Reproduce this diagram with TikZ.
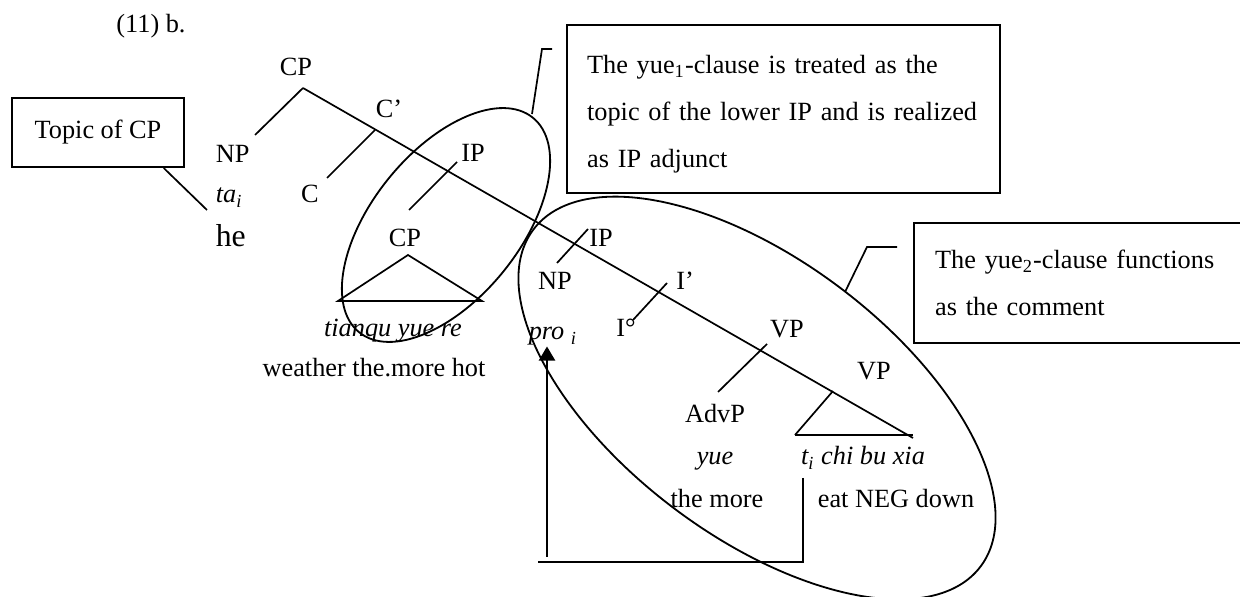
\documentclass[tikz,border=0pt]{standalone}
\usepackage{fontspec}
\setmainfont{Liberation Serif}
\usetikzlibrary{shapes.geometric, arrows.meta, calc}

\begin{document}
\begin{tikzpicture}[x=0.0155cm, y=0.0155cm, line width=0.75pt, font=\fontsize{11.6}{14}\selectfont]
\tikzset{lab/.style={inner sep=0pt, anchor=base}, box/.style={draw, line width=1pt, inner sep=0pt, font=\fontsize{11.6}{20.9}\selectfont}, oval/.style={draw, ellipse, inner sep=0pt, line width=0.8pt}, move/.style={line width=1pt}}
\useasboundingbox (0,0) rectangle (1240,-597);
\clip (0,0) rectangle (1240,-597);
% labels of the tree
\node[lab] (ex) at (151,-33) {(11) b.};
\node[lab] (cp) at (296,-76) {CP};
\node[lab, anchor=base west] (np) at (215,-163) {NP};
\node[lab, anchor=base west] (ta) at (215,-203) {\textit{ta\textsubscript{i}}};
\node[lab, anchor=base west, font=\fontsize{14}{16}\selectfont] (he) at (215,-247) {he};
\node[lab] (cbar) at (389,-118) {C’};
\node[lab] (c) at (310,-203) {C};
\node[lab] (ip) at (473,-162) {IP};
\node[lab] (cp2) at (405,-247) {CP};
\node[lab] (tq) at (393,-337) {\textit{tianqu yue re}};
\node[lab] (gl1) at (374,-377) {weather the.more hot};
\node[lab] (ip2) at (601,-247) {IP};
\node[lab] (np2) at (555,-290) {NP};
\node[lab] (ibar) at (685,-290) {I’};
\node[lab] (i0) at (626,-337) {I°};
\node[lab] (pro) at (553,-340) {\textit{pro \textsubscript{i}}};
\node[lab] (vp) at (787,-338) {VP};
\node[lab] (vp2) at (874,-380) {VP};
\node[lab] (advp) at (715,-423) {AdvP};
\node[lab] (yue) at (715,-465) {\textit{yue}};
\node[lab] (chi) at (863,-465) {\textit{t\textsubscript{i} chi bu xia}};
\node[lab] (gl2) at (717,-507) {the more};
\node[lab] (gl3) at (896,-507) {eat NEG down};
% boxes and ovals
\node[box, minimum width=2.666cm, minimum height=1.07cm] (topic) at (98,-132.5) {Topic of CP};
\node[box, text width=6.09cm, inner xsep=0.31cm, minimum height=2.604cm, align=left] (note1) at (783.5,-109) {\rule{0pt}{0.44cm}The yue\textsubscript{1}-clause is treated as the\\topic of the lower IP and is realized\\as IP adjunct};
\node[box, text width=4.62cm, inner xsep=0.326cm, minimum height=1.86cm, align=left, anchor=west] (note2) at (913,-283) {The yue\textsubscript{2}-clause functions\\as the comment};
\node[oval, minimum width=4.28cm, minimum height=2.29cm, rotate=51] (yue1) at (446,-225) {};
\node[oval, minimum width=8.68cm, minimum height=4.28cm, rotate=-37] (yue2) at (757,-398) {};
% branch points
\coordinate (top) at (303,-88); \coordinate (end) at (913,-438);
\coordinate (np-a) at (255,-135);
\coordinate (c-a) at (327,-178); \coordinate (c-b) at (375,-130);
\coordinate (ip-a) at (409,-210); \coordinate (ip-b) at (457,-162);
\coordinate (cp2-a) at (408,-255); \coordinate (cp2-l) at (338,-301); \coordinate (cp2-r) at (482,-301);
\coordinate (ip2-a) at (557,-263); \coordinate (ip2-b) at (588,-229);
\coordinate (i-a) at (633,-320); \coordinate (i-b) at (667,-283);
\coordinate (adv-a) at (718,-392); \coordinate (adv-b) at (767,-344);
\coordinate (vp2-a) at (833,-391); \coordinate (vp2-l) at (795,-435); \coordinate (vp2-r) at (913,-435);
\coordinate (tp) at (207,-210);
\coordinate (c1a) at (532,-114); \coordinate (c1b) at (542,-49); \coordinate (c1c) at (552,-49);
\coordinate (c2a) at (845,-292); \coordinate (c2b) at (867,-247); \coordinate (c2c) at (897,-247);
\coordinate (mv-t) at (803,-478); \coordinate (mv-l) at (538,-562); \coordinate (ar-b) at (547,-557);
% tree
\draw (top) -- (end);
\draw (np-a) -- (top); \draw (c-a) -- (c-b); \draw (ip-a) -- (ip-b);
\draw (cp2-l) -- (cp2-a) -- (cp2-r) -- cycle;
\draw (ip2-a) -- (ip2-b); \draw (i-a) -- (i-b); \draw (adv-a) -- (adv-b);
\draw (vp2-l) -- (vp2-a); \draw (vp2-l) -- (vp2-r);
% callouts and movement
\draw ([xshift=-0.33cm]topic.south east) -- (tp);
\draw (c1a) -- (c1b) -- (c1c);
\draw (c2a) -- (c2b) -- (c2c);
\draw[move] (mv-t) |- (mv-l);
\draw[move, -{Triangle[width=0.25cm, length=0.22cm]}] (ar-b) -- (ar-b |- pro.south);
\end{tikzpicture}
\end{document}
